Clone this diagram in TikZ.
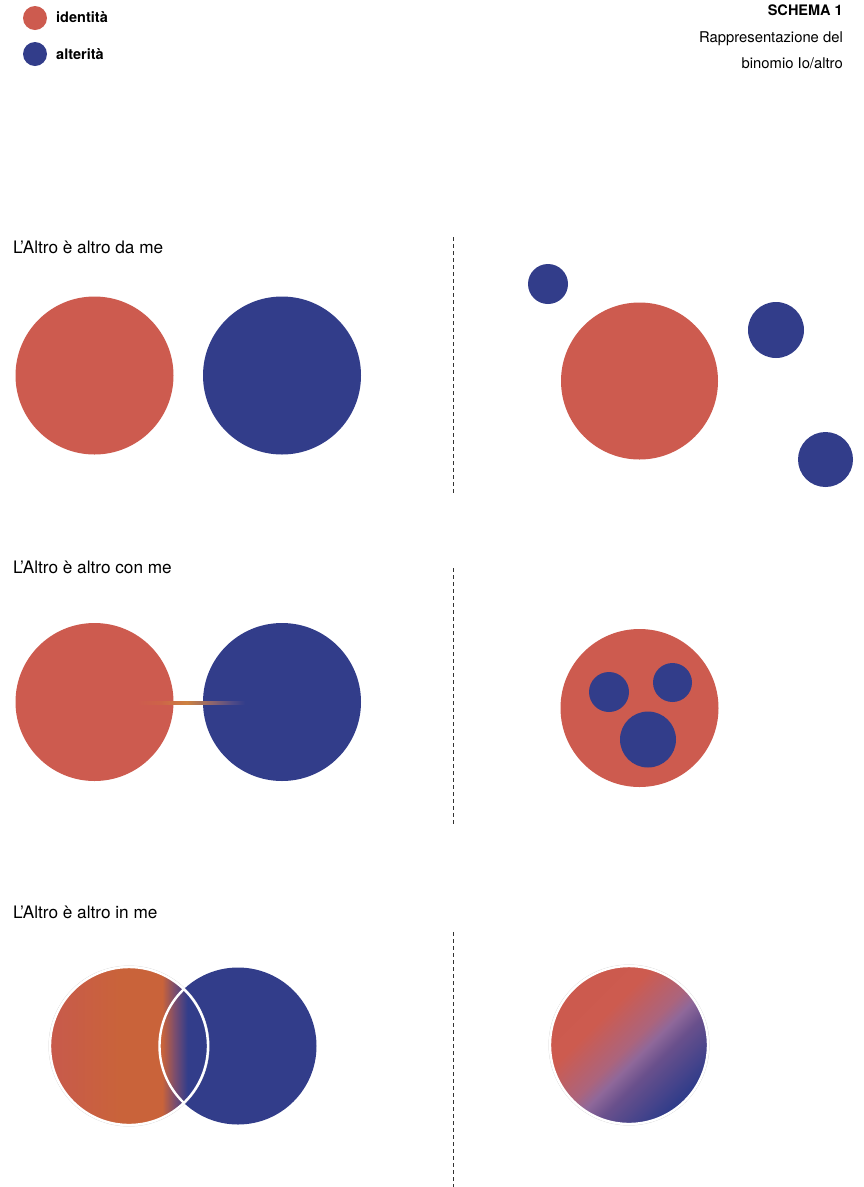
\documentclass[tikz,border=0pt]{standalone}
\usepackage{fontspec}
\setmainfont{TeX Gyre Heros}
\definecolor{idred}{RGB}{205,91,79}
\definecolor{alblue}{RGB}{50,61,138}
\definecolor{idredB}{RGB}{200,90,76}
\definecolor{orng}{RGB}{201,99,58}
\definecolor{purp}{RGB}{122,77,110}
\definecolor{lilac}{RGB}{143,104,154}
\definecolor{mauve}{RGB}{172,100,124}
\definecolor{violet2}{RGB}{105,80,140}
\definecolor{dredD}{RGB}{204,90,78}
\definecolor{cA}{RGB}{205,100,72}
\definecolor{cB}{RGB}{205,130,65}
\definecolor{cC}{RGB}{140,100,110}
\definecolor{cD}{RGB}{80,75,135}
\pgfdeclarehorizontalshading{leftgrad}{100bp}{color(0bp)=(idredB); color(25bp)=(idredB); color(47bp)=(orng); color(60.5bp)=(orng); color(64.5bp)=(purp); color(68.5bp)=(alblue); color(100bp)=(alblue)}
\pgfdeclarehorizontalshading{diaggrad}{100bp}{color(0bp)=(dredD); color(28bp)=(dredD); color(38bp)=(idred); color(50bp)=(mauve); color(54.5bp)=(lilac); color(60bp)=(violet2); color(73bp)=(alblue); color(100bp)=(alblue)}
\pgfdeclarehorizontalshading{conngrad}{100bp}{color(0bp)=(idred); color(25bp)=(idred); color(36bp)=(cA); color(48bp)=(cB); color(60bp)=(cC); color(69bp)=(cD); color(75bp)=(alblue); color(100bp)=(alblue)}
\tikzset{
  disc/.style={circle, inner sep=0pt, minimum size=#1},
  redd/.style={disc=#1, fill=idred},
  blued/.style={disc=#1, fill=alblue},
  dashline/.style={draw=black!80, line width=0.8pt, dash pattern=on 4pt off 3pt},
  rowlabel/.style={anchor=base west, inner sep=0pt, font=\fontsize{17.2}{20}\selectfont},
  small/.style={inner sep=0pt, font=\fontsize{14.8}{17}\selectfont},
  ring/.style={draw=black!18, line width=0.5pt}
}
\begin{document}
\begin{tikzpicture}[x=1pt,y=-1pt]
\useasboundingbox[fill=white] (0,0) rectangle (863,1187);

% legend
\node[redd=24pt] (legr) at (35,18) {};
\node[blued=24pt] (legb) at (35,54) {};
\node[small, anchor=base west, font=\fontsize{14.5}{17}\selectfont\bfseries] (legrt) at (56,22.5) {identità};
\node[small, anchor=base west, font=\fontsize{14.5}{17}\selectfont\bfseries] (legbt) at (56,59.5) {alterità};

% title
\node[small, anchor=base east, font=\fontsize{14.5}{17}\selectfont\bfseries] (t1) at (843,15) {SCHEMA 1};
\node[small, anchor=base east] (t2) at (843,42) {Rappresentazione del};
\node[small, anchor=base east] (t3) at (843,68) {binomio Io/altro};

% row 1
\node[rowlabel] (lab1) at (13,253) {L'Altro è altro da me};
\node[redd=158pt] (io1) at (94.5,375.5) {};
\node[blued=158pt] (al1) at (282,375.5) {};
\coordinate (d1a) at (453,237);
\coordinate (d1b) at (453,495);
\draw[dashline] (d1a) -- (d1b);
\node[redd=157pt] (io1r) at (639.5,381) {};
\node[blued=40pt] (s1) at (548,284) {};
\node[blued=56pt] (s2) at (776,330) {};
\node[blued=55pt] (s3) at (825.5,459.5) {};

% row 2
\node[rowlabel] (lab2) at (13,573.3) {L'Altro è altro con me};
\node[redd=158pt] (io2) at (94.5,702) {};
\node[blued=158pt] (al2) at (282,702) {};
\coordinate (c1) at (137,702.7);
\coordinate (c2) at (245,702.7);
\shade[shading=conngrad] ([yshift=-1.6pt]c1) rectangle ([yshift=1.6pt]c2);
\coordinate (d2a) at (453,568);
\coordinate (d2b) at (453,826);
\draw[dashline] (d2a) -- (d2b);
\node[redd=158pt] (io2r) at (639.5,708) {};
\node[blued=40pt] (u1) at (609,692) {};
\node[blued=39pt] (u2) at (672.5,682.5) {};
\node[blued=56pt] (u3) at (648,739.5) {};

% row 3
\node[rowlabel] (lab3) at (13,918) {L'Altro è altro in me};
\node[blued=157pt] (al3) at (238,1046) {};
\draw[ring] (129,1046) circle (80.2pt);
\node[disc=158pt, shade, shading=leftgrad, draw=white, line width=2.4pt] (io3) at (129,1046) {};
\begin{scope}
  \clip (io3.center) circle (79pt);
  \draw[white, line width=2.4pt] (al3.center) circle (78.5pt);
\end{scope}
\coordinate (d3a) at (453,932);
\coordinate (d3b) at (453,1187);
\draw[dashline] (d3a) -- (d3b);
\draw[ring] (629,1045) circle (80.2pt);
\node[disc=158pt, draw=white, line width=2.4pt, path picture={
  \begin{scope}[transform canvas={rotate around={-45:(path picture bounding box.center)}}]
    \shade[shading=diaggrad] ([shift={(-80pt,-80pt)}]path picture bounding box.center) rectangle ([shift={(80pt,80pt)}]path picture bounding box.center);
  \end{scope}}] (mix) at (629,1045) {};
\end{tikzpicture}
\end{document}
